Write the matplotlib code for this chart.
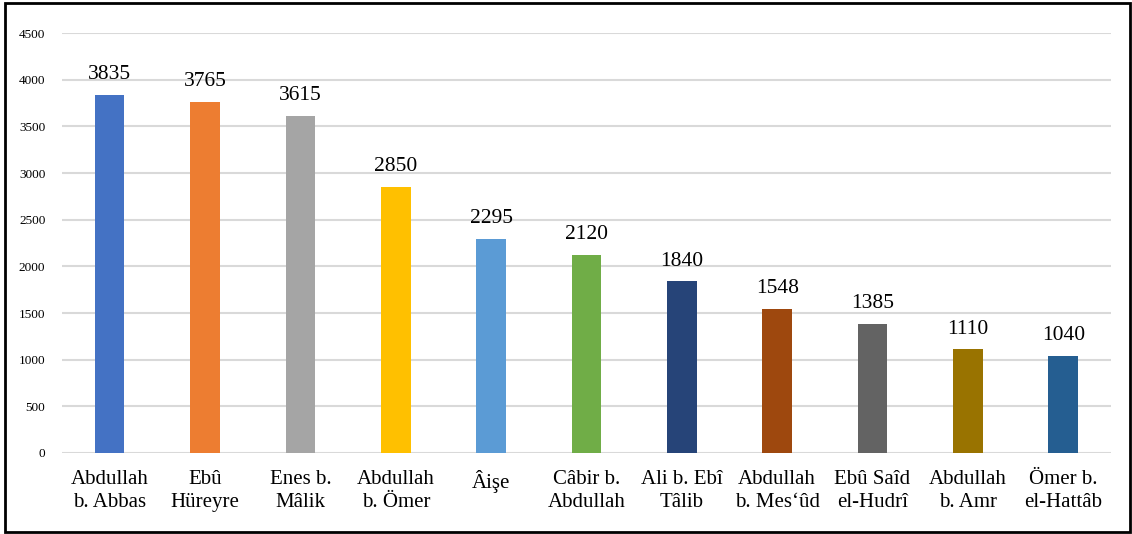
import matplotlib
matplotlib.use("Agg")
import matplotlib.pyplot as plt
from matplotlib.patches import Rectangle

categories = ["Abdullah\nb. Abbas", "Ebû\nHüreyre", "Enes b.\nMâlik", "Abdullah\nb. Ömer",
              "Âişe", "Câbir b.\nAbdullah", "Ali b. Ebî\nTâlib", "Abdullah\nb. Mes‘ûd",
              "Ebû Saîd\nel-Hudrî", "Abdullah\nb. Amr", "Ömer b.\nel-Hattâb"]
values = [3835, 3765, 3615, 2850, 2295, 2120, 1840, 1548, 1385, 1110, 1040]
colors = ["#4472C4", "#ED7D31", "#A5A5A5", "#FFC000", "#5B9BD5", "#70AD47",
          "#264478", "#9E480E", "#636363", "#997300", "#255E91"]
yticks = list(range(0, 4501, 500))

plt.rcParams['font.family'] = ['Liberation Serif', 'DejaVu Serif']

fig = plt.figure(figsize=(11.32, 5.34), dpi=100)
ax = fig.add_axes([0.0548, 0.1517, 0.9266, 0.7863])
x = list(range(len(categories)))
ax.bar(x, values, width=0.31, color=colors, zorder=3)
for xi, v in zip(x, values):
    ax.text(xi, v + 115, str(v), ha='center', va='bottom', fontsize=15.5, color='black')

ax.set_xlim(-0.5, len(categories) - 0.5)
ax.set_ylim(0, 4500)
ax.set_yticks(yticks)
ax.set_yticklabels([str(t) for t in yticks], fontsize=9.5)
ax.set_xticks(x)
ax.set_xticklabels(categories, fontsize=15, linespacing=1.3)
ax.tick_params(axis='both', length=0)
ax.tick_params(axis='y', pad=12)
ax.tick_params(axis='x', pad=12)
ax.grid(axis='y', color='#D9D9D9', linewidth=1.5, zorder=0)
for s in ax.spines.values():
    s.set_visible(False)

fig.patches.append(Rectangle((5/1132, 2/534), 1125/1132, 529/534, transform=fig.transFigure,
                             fill=False, edgecolor='black', linewidth=2))
fig.savefig("out.png", dpi=100)
